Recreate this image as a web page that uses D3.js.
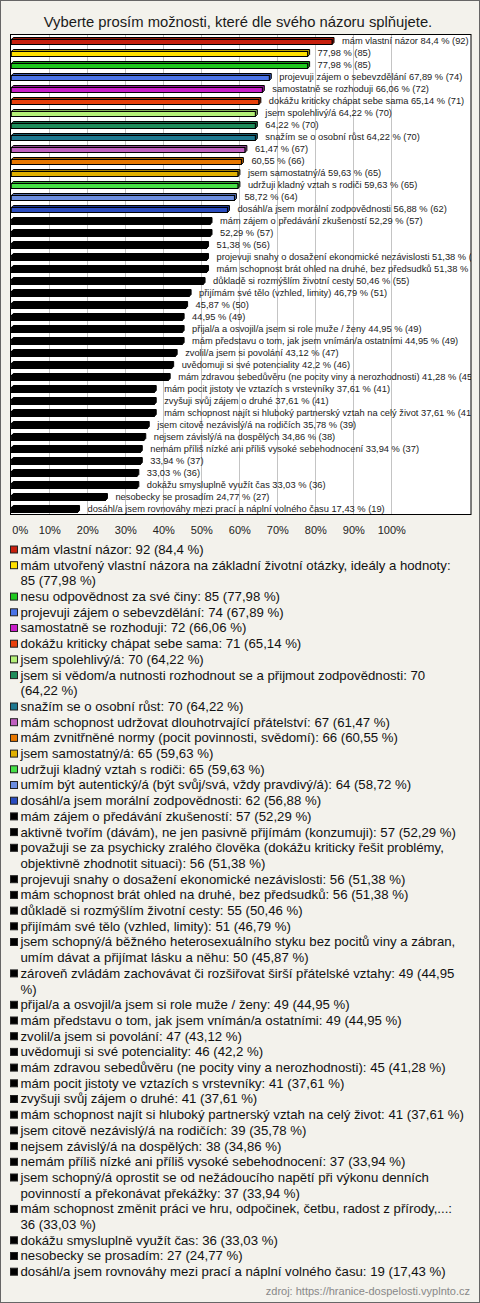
<!DOCTYPE html>
<html><head><meta charset="utf-8">
<script src="https://cdn.jsdelivr.net/npm/d3@7"></script>
<style>
html,body{margin:0;padding:0;background:#f3f2ec;}
svg{display:block;}
</style></head>
<body>
<script>
const title = "Vyberte prosím možnosti, které dle svého názoru splňujete.";
const categories = [
"mám vlastní názor",
"mám utvořený vlastní názora na základní životní otázky, ideály a hodnoty",
"nesu odpovědnost za své činy",
"projevuji zájem o sebevzdělání",
"samostatně se rozhoduji",
"dokážu kriticky chápat sebe sama",
"jsem spolehlivý/á",
"jsem si vědom/a nutnosti rozhodnout se a přijmout zodpovědnosti",
"snažím se o osobní růst",
"mám schopnost udržovat dlouhotrvající přátelství",
"mám zvnitřněné normy (pocit povinnosti, svědomí)",
"jsem samostatný/á",
"udržuji kladný vztah s rodiči",
"umím být autentický/á (být svůj/svá, vždy pravdivý/á)",
"dosáhl/a jsem morální zodpovědnosti",
"mám zájem o předávání zkušeností",
"aktivně tvořím (dávám), ne jen pasivně přijímám (konzumuji)",
"považuji se za psychicky zralého člověka (dokážu kriticky řešit problémy, objektivně zhodnotit situaci)",
"projevuji snahy o dosažení ekonomické nezávislosti",
"mám schopnost brát ohled na druhé, bez předsudků",
"důkladě si rozmýšlím životní cesty",
"přijímám své tělo (vzhled, limity)",
"jsem schopný/á běžného heterosexuálního styku bez pocitů viny a zábran, umím dávat a přijímat lásku a něhu",
"zároveň zvládám zachovávat či rozšiřovat širší přátelské vztahy",
"přijal/a a osvojil/a jsem si role muže / ženy",
"mám představu o tom, jak jsem vnímán/a ostatními",
"zvolil/a jsem si povolání",
"uvědomuji si své potenciality",
"mám zdravou sebedůvěru (ne pocity viny a nerozhodnosti)",
"mám pocit jistoty ve vztazích s vrstevníky",
"zvyšuji svůj zájem o druhé",
"mám schopnost najít si hluboký partnerský vztah na celý život",
"jsem citově nezávislý/á na rodičích",
"nejsem závislý/á na dospělých",
"nemám příliš nízké ani příliš vysoké sebehodnocení",
"jsem schopný/á oprostit se od nežádoucího napětí při výkonu denních povinností a překonávat překážky",
"mám schopnost změnit práci ve hru, odpočinek, četbu, radost z přírody,...",
"dokážu smysluplně využít čas",
"nesobecky se prosadím",
"dosáhl/a jsem rovnováhy mezi prací a náplní volného času"
];
const counts = [92,85,85,74,72,71,70,70,70,67,66,65,65,64,62,57,57,56,56,56,55,51,50,49,49,49,47,46,45,41,41,41,39,38,37,37,36,36,27,19];
const percents = [84.4,77.98,77.98,67.89,66.06,65.14,64.22,64.22,64.22,61.47,60.55,59.63,59.63,58.72,56.88,52.29,52.29,51.38,51.38,51.38,50.46,46.79,45.87,44.95,44.95,44.95,43.12,42.2,41.28,37.61,37.61,37.61,35.78,34.86,33.94,33.94,33.03,33.03,24.77,17.43];
// 1 = bar label shows the category name
const barNameShown = [1,0,0,1,1,1,1,0,1,0,0,1,1,0,1,1,0,0,1,1,1,1,0,0,1,1,1,1,1,1,1,1,1,1,1,0,0,1,1,1];
const colors = ["#c8200e","#ffe000","#1ec81e","#4a74e8","#c81ec8","#e8400c","#b4f078","#1e8c5a","#1e7890","#c060c0","#e87800","#e0b000","#46e046","#6c8ee0","#2a4cc0",
"#000","#000","#000","#000","#000","#000","#000","#000","#000","#000","#000","#000","#000","#000","#000","#000","#000","#000","#000","#000","#000","#000","#000","#000","#000"];
// legend items that wrap: index -> text that starts the second line
const legendSecondLine = {
  1: "85 (77,98 %)",
  7: "(64,22 %)",
  17: "objektivně zhodnotit situaci): 56 (51,38 %)",
  22: "umím dávat a přijímat lásku a něhu: 50 (45,87 %)",
  23: "%)",
  35: "povinností a překonávat překážky: 37 (33,94 %)",
  36: "36 (33,03 %)"
};
const tickValues = [0,10,20,30,40,50,60,70,80,90,100];
const source = "zdroj: https://hranice-dospelosti.vyplnto.cz";

const W = 480, H = 1303;
const fmt = v => String(v).replace(".", ",");
const svg = d3.select("body").append("svg").attr("width", W).attr("height", H);

svg.append("rect").attr("x",0.5).attr("y",0.5).attr("width",W-1).attr("height",H-1)
  .attr("fill","#f3f2ec").attr("stroke","#666");

svg.append("text").attr("x", 238).attr("y", 26.5).attr("text-anchor","middle")
  .attr("font-family","Liberation Sans, Arial, sans-serif").attr("font-size",14.8).attr("fill","#1a1a1a")
  .text(title);

const plot = {x0: 10.5, y0: 34.5, x1: 471, y1: 514.5};
const x = d3.scaleLinear().domain([0,100]).range([11.3, 391.3]);
const y = d3.scaleBand().domain(d3.range(categories.length)).range([plot.y0, plot.y1]);

svg.append("rect").attr("x",plot.x0).attr("y",plot.y0).attr("width",plot.x1-plot.x0).attr("height",plot.y1-plot.y0)
  .attr("fill","#fff");

svg.append("g").selectAll("line").data(tickValues.filter(t=>t>0)).join("line")
  .attr("x1", d=>Math.round(x(d))+0.5).attr("x2", d=>Math.round(x(d))+0.5)
  .attr("y1", plot.y0).attr("y2", plot.y1).attr("stroke","#c4c4c4").attr("stroke-width",1);

svg.append("clipPath").attr("id","pc").append("rect")
  .attr("x",plot.x0).attr("y",plot.y0).attr("width",plot.x1-plot.x0).attr("height",plot.y1-plot.y0);

const g = svg.append("g").attr("clip-path","url(#pc)");
const depth = 2, bh = 5;
const bars = g.selectAll("g.bar").data(percents).join("g").attr("class","bar");
bars.each(function(v,i){
  const sel = d3.select(this);
  const c = colors[i];
  const dark = c === "#000" ? "#000" : d3.color(c).darker(0.9).formatHex();
  const yc = y(i) + y.bandwidth()/2 + 0.5;
  const top = yc - bh/2 + 1, x0 = x(0), xv = x(v);
  sel.append("path")
    .attr("d", `M${x0},${top}L${x0+depth},${top-depth}L${xv+depth},${top-depth}L${xv+depth},${top+bh-depth}L${xv},${top+bh}L${xv},${top}Z`)
    .attr("fill", dark).attr("stroke","#000").attr("stroke-width",1).attr("stroke-linejoin","round");
  sel.append("rect").attr("x",x0).attr("y",top).attr("width",xv-x0).attr("height",bh)
    .attr("fill",c).attr("stroke","#000").attr("stroke-width",1);
  sel.append("text").attr("x", xv + 10).attr("y", yc+0.5).attr("dominant-baseline","middle")
    .attr("font-family","Liberation Sans, Arial, sans-serif").attr("font-size",9.3).attr("fill","#222")
    .text((barNameShown[i] ? categories[i] + " " : "") + fmt(v) + " % (" + counts[i] + ")");
});

svg.append("rect").attr("x",plot.x0).attr("y",plot.y0).attr("width",plot.x1-plot.x0).attr("height",plot.y1-plot.y0)
  .attr("fill","none").attr("stroke","#000").attr("stroke-width",1);

const axis = svg.append("g").attr("transform",`translate(0,${plot.y1})`)
  .call(d3.axisBottom(x).tickValues(tickValues).tickFormat(d=>d+"%").tickSize(0).tickPadding(12));
axis.select(".domain").remove();
axis.selectAll("text").attr("font-family","Liberation Sans, Arial, sans-serif").attr("font-size",11).attr("fill","#222");
axis.selectAll(".tick").filter(d=>d===0).select("text").attr("text-anchor","start").attr("dx",0.5);

// legend
const lg = svg.append("g");
const lineH = 15.7, tx = 20.5;
let line = 0;
categories.forEach((cat,i) => {
  const txt = cat + ": " + counts[i] + " (" + fmt(percents[i]) + " %)";
  const yl = 550 + line*lineH;
  lg.append("rect").attr("x",10.5).attr("y",yl-4).attr("width",7).attr("height",7)
    .attr("fill",colors[i]).attr("stroke","#222").attr("stroke-width",1);
  const t = lg.append("text").attr("font-family","Liberation Sans, Arial, sans-serif")
    .attr("font-size",13.2).attr("fill","#111");
  let lines = [txt];
  const s2 = legendSecondLine[i];
  if (s2) {
    const k = txt.lastIndexOf(s2);
    lines = [txt.slice(0,k).trim(), txt.slice(k)];
  }
  lines.forEach((l,j) => {
    t.append("tspan").attr("x",tx).attr("y",yl+0.5+j*lineH).attr("dominant-baseline","middle").text(l);
  });
  line += lines.length;
});

svg.append("text").attr("x",470).attr("y",1292).attr("text-anchor","end").attr("dominant-baseline","middle")
  .attr("font-family","Liberation Sans, Arial, sans-serif").attr("font-size",11).attr("fill","#888")
  .text(source);
</script>
</body></html>
